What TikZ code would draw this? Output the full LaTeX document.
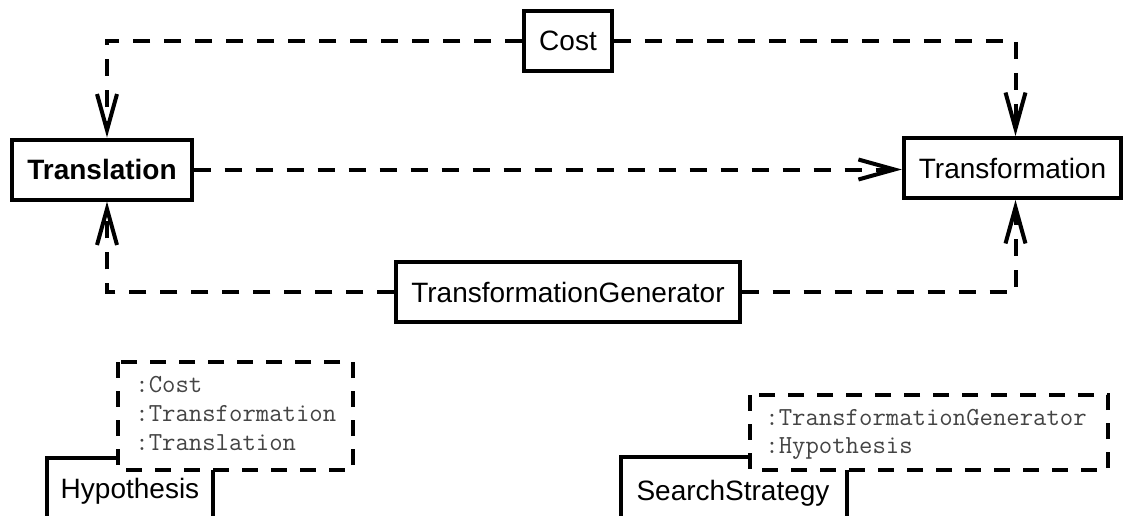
\documentclass[tikz,border=0pt]{standalone}
\usepackage{fontspec}
\setmainfont{Liberation Sans}
\usetikzlibrary{arrows.meta}
\definecolor{BLACK}{HTML}{000000}
\definecolor{GREY}{HTML}{444444}

\begin{document}
\begin{tikzpicture}[x=0.5pt, y=-0.5pt,
    box/.style={draw=BLACK, line width=2pt, fill=white, font=\fontsize{14}{17}\selectfont, inner xsep=7.5pt, minimum height=30pt},
    dep/.style={BLACK, line width=2pt, dash pattern=on 8.5pt off 7pt, -{Straight Barb[length=18pt, width=10pt]}},
    frame/.style={BLACK, line width=2pt},
    params/.style={BLACK, line width=2pt, dash pattern=on 8pt off 6.5pt, fill=white},
    param/.style={GREY, font=\ttfamily\fontsize{13}{15}\selectfont, anchor=base west, inner sep=0pt}]
    \useasboundingbox (0,0) rectangle (1126,515);
    % classes
    \node[box] (cost) at (568,40.5) {Cost};
    \node[box, font=\fontsize{14}{17}\selectfont\bfseries] (transl) at (102,169.5) {Translation};
    \node[box] (transf) at (1012.5,168) {Transformation};
    \node[box] (tgen) at (568,292) {TransformationGenerator};
    % dependencies
    \draw[dep] (cost.west) -| ([xshift=2.5pt]transl.north);
    \draw[dep] (cost.east) -| ([xshift=1.5pt]transf.north);
    \draw[dep] (transl.east) -- (transl.east -| transf.west);
    \draw[dep] (tgen.west) -| ([xshift=2.5pt]transl.south);
    \draw[dep] (tgen.east) -| ([xshift=1.5pt]transf.south);
    % template Hypothesis
    \draw[frame] (47,458) rectangle (213,545);
    \node[font=\fontsize{14}{17}\selectfont, anchor=base] (hyp) at (130,498) {Hypothesis};
    \draw[params] (118,362) rectangle (353,470);
    \node[param] (hypcost) at (135,392) {:Cost};
    \node[param] (hyptransf) at (135,421) {:Transformation};
    \node[param] (hyptransl) at (135,450) {:Translation};
    % template SearchStrategy
    \draw[frame] (621,457) rectangle (847,545);
    \node[font=\fontsize{14}{17}\selectfont, anchor=base] (search) at (733,500) {SearchStrategy};
    \draw[params] (750,395) rectangle (1108,470);
    \node[param] (searchtgen) at (765,425) {:TransformationGenerator};
    \node[param] (searchhyp) at (765,453) {:Hypothesis};
\end{tikzpicture}
\end{document}
